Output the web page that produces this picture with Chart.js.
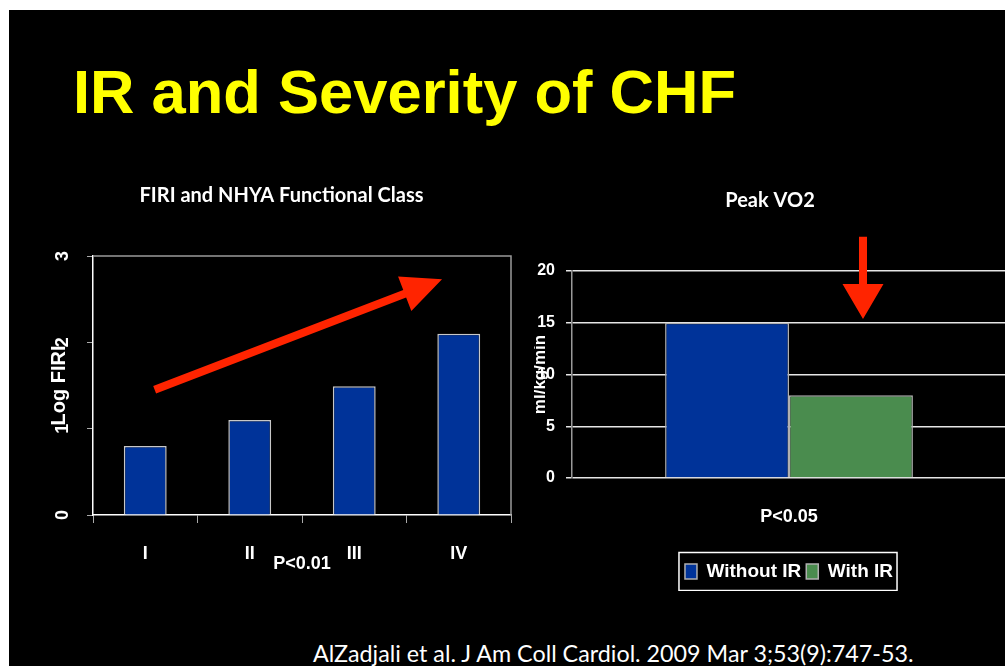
<!DOCTYPE html>
<html>
<head>
<meta charset="utf-8">
<title>IR and Severity of CHF</title>
<script src="https://cdn.jsdelivr.net/npm/chart.js@4.4.1/dist/chart.umd.min.js"></script>
<style>
  html, body { margin: 0; padding: 0; width: 1005px; height: 666px; overflow: hidden; background: #fff; }
  #slide { position: absolute; left: 9px; top: 10px; width: 1000px; height: 660px; background: #000; }
  #heading { position: absolute; left: 73px; top: 61px; margin: 0; font: bold 61.5px 'Liberation Sans', Arial, sans-serif;
             line-height: 61.5px; color: #ffff00; white-space: nowrap; }
  #cite { position: absolute; left: 313px; top: 639px; font: 23.3px Lato, 'Open Sans', sans-serif; line-height: 28px;
          color: #fff; white-space: nowrap; }
  canvas { position: absolute; }
  #firiChart { left: 9px; top: 170px; }
  #vo2Chart { left: 534px; top: 170px; }
</style>
</head>
<body>
<div id="slide"></div>
<h1 id="heading">IR and Severity of CHF</h1>
<canvas id="firiChart" width="506" height="405"></canvas>
<canvas id="vo2Chart" width="472" height="421"></canvas>
<div id="cite">AlZadjali et al. J Am Coll Cardiol. 2009 Mar 3;53(9):747-53.</div>

<script>
// FIRI by NYHA class (log FIRI)
const firiClasses = ['I', 'II', 'III', 'IV'];
const firiValues = [0.80, 1.10, 1.49, 2.10];
const firiTicks = [0, 1, 2, 3];
// trend arrow, [class index, log FIRI] for tail and tip
const firiArrow = [[0.09, 1.45], [2.84, 2.73]];

// Peak VO2 (ml/kg/min)
const vo2Groups = ['Without IR', 'With IR'];
const vo2Values = [15, 8];
const vo2Ticks = [0, 5, 10, 15, 20];
// down arrow, [fraction of x axis, ml/kg/min] for tail and tip
const vo2Arrow = [[0.6705, 23.3], [0.6705, 15.36]];

const BLUE = 'rgb(0, 51, 153)';
const GREEN = 'rgb(74, 140, 78)';
const RED = 'rgb(255, 36, 0)';
const ARIAL = "'Liberation Sans', Arial, sans-serif";
const CALIBRI = "Lato, 'Open Sans', sans-serif";

function drawArrow(ctx, x0, y0, x1, y1, shaft, headLen, headW) {
    const len = Math.hypot(x1 - x0, y1 - y0);
    ctx.save();
    ctx.translate(x0, y0);
    ctx.rotate(Math.atan2(y1 - y0, x1 - x0));
    ctx.fillStyle = RED;
    ctx.beginPath();
    ctx.moveTo(0, -shaft / 2);
    ctx.lineTo(len - headLen, -shaft / 2);
    ctx.lineTo(len - headLen, -headW / 2);
    ctx.lineTo(len, 0);
    ctx.lineTo(len - headLen, headW / 2);
    ctx.lineTo(len - headLen, shaft / 2);
    ctx.lineTo(0, shaft / 2);
    ctx.closePath();
    ctx.fill();
    ctx.restore();
}

// top and right edges of the plot frame
const framePlugin = {
    id: 'frame',
    beforeDatasetsDraw(chart) {
        const {ctx, chartArea: a} = chart;
        ctx.save();
        ctx.strokeStyle = '#9a9a9a';
        ctx.lineWidth = 1.5;
        ctx.beginPath();
        ctx.moveTo(a.left, a.top);
        ctx.lineTo(a.right, a.top);
        ctx.lineTo(a.right, a.bottom);
        ctx.stroke();
        ctx.restore();
    }
};

// y tick labels turned on their side
const sideTicksPlugin = {
    id: 'sideTicks',
    afterDraw(chart) {
        const {ctx} = chart;
        const y = chart.scales.y;
        const cx = y.right - 30;
        ctx.save();
        ctx.fillStyle = '#fff';
        ctx.font = 'bold 18px ' + ARIAL;
        ctx.textAlign = 'center';
        ctx.textBaseline = 'middle';
        y.ticks.forEach(t => {
            ctx.save();
            ctx.translate(cx, y.getPixelForValue(t.value));
            ctx.rotate(-Math.PI / 2);
            ctx.fillText(String(t.value), 0, 0);
            ctx.restore();
        });
        ctx.restore();
    }
};

const firiArrowPlugin = {
    id: 'firiArrow',
    afterDraw(chart) {
        const {x, y} = chart.scales;
        const [tail, tip] = firiArrow;
        drawArrow(chart.ctx, x.getPixelForValue(tail[0]), y.getPixelForValue(tail[1]),
            x.getPixelForValue(tip[0]), y.getPixelForValue(tip[1]), 8, 40, 37);
    }
};

const vo2ArrowPlugin = {
    id: 'vo2Arrow',
    afterDraw(chart) {
        const {x, y} = chart.scales;
        const [tail, tip] = vo2Arrow;
        drawArrow(chart.ctx, x.getPixelForDecimal(tail[0]), y.getPixelForValue(tail[1]),
            x.getPixelForDecimal(tip[0]), y.getPixelForValue(tip[1]), 8, 35, 41);
    }
};

// white outline round the legend
const legendBoxPlugin = {
    id: 'legendBox',
    afterDraw(chart) {
        const boxes = chart.legend.legendHitBoxes;
        if (!boxes.length) return;
        const left = Math.min(...boxes.map(b => b.left));
        const right = Math.max(...boxes.map(b => b.left + b.width));
        const top = Math.min(...boxes.map(b => b.top));
        const bottom = Math.max(...boxes.map(b => b.top + b.height));
        const ctx = chart.ctx;
        ctx.save();
        ctx.strokeStyle = '#fff';
        ctx.lineWidth = 1.5;
        ctx.strokeRect(left - 6, top - 9.5, right - left + 10, bottom - top + 19);
        ctx.restore();
    }
};

new Chart(document.getElementById('firiChart'), {
    type: 'bar',
    data: {
        labels: firiClasses,
        datasets: [{
            data: firiValues,
            backgroundColor: BLUE,
            borderColor: '#c8c8c8',
            borderWidth: 1.5,
            categoryPercentage: 1,
            barPercentage: 0.41
        }]
    },
    options: {
        responsive: false,
        animation: false,
        layout: { padding: { left: 43, right: 4, top: 0, bottom: 0 } },
        plugins: {
            legend: { display: false },
            tooltip: { enabled: false },
            title: {
                display: true,
                text: 'FIRI and NHYA Functional Class',
                color: '#fff',
                font: { family: CALIBRI, weight: 'bold', size: 20 },
                padding: { top: 14, bottom: 48 }
            }
        },
        scales: {
            x: {
                grid: { drawOnChartArea: false, tickLength: 8, color: '#aaa', offset: true },
                border: { color: '#fff', width: 1.5 },
                ticks: { color: '#fff', font: { family: ARIAL, weight: 'bold', size: 18 }, padding: 20 },
                title: {
                    display: true, text: 'P<0.01', color: '#fff',
                    font: { family: ARIAL, weight: 'bold', size: 18 },
                    padding: { top: 0, bottom: 0 }
                },
                afterFit: s => { s.height = 60; }
            },
            y: {
                min: 0,
                max: 3,
                afterBuildTicks: s => { s.ticks = firiTicks.map(v => ({ value: v })); },
                grid: { drawOnChartArea: false, tickLength: 6, color: '#aaa' },
                border: { color: '#fff', width: 1.5 },
                ticks: { display: false },
                title: {
                    display: true, text: 'Log FIRI', color: '#fff',
                    font: { family: ARIAL, weight: 'bold', size: 20 },
                    padding: { top: -5, bottom: 0 }
                },
                afterFit: s => { s.width = 41; }
            }
        }
    },
    plugins: [framePlugin, sideTicksPlugin, firiArrowPlugin]
});

new Chart(document.getElementById('vo2Chart'), {
    type: 'bar',
    data: {
        labels: [''],
        datasets: vo2Groups.map((g, i) => ({
            label: g,
            data: [vo2Values[i]],
            backgroundColor: [BLUE, GREEN][i],
            borderColor: '#b0b0b0',
            borderWidth: 1.5,
            categoryPercentage: 0.571,
            barPercentage: 1
        }))
    },
    options: {
        responsive: false,
        animation: false,
        layout: { padding: 0 },
        plugins: {
            tooltip: { enabled: false },
            legend: {
                position: 'bottom',
                fullSize: false,
                labels: {
                    color: '#fff',
                    font: { family: ARIAL, weight: 'bold', size: 19 },
                    boxWidth: 12,
                    boxHeight: 15,
                    padding: 5
                }
            },
            title: {
                display: true,
                text: 'Peak VO2',
                color: '#fff',
                font: { family: CALIBRI, weight: 'bold', size: 20 },
                padding: { top: 19, bottom: 58 }
            }
        },
        scales: {
            x: {
                grid: { display: false },
                border: { display: false },
                ticks: { display: false },
                title: {
                    display: true, text: 'P<0.05', color: '#fff',
                    font: { family: ARIAL, weight: 'bold', size: 18 },
                    padding: { top: 0, bottom: 29 }
                },
                afterFit: s => { s.height = 79; }
            },
            y: {
                min: 0,
                max: 20,
                afterBuildTicks: s => { s.ticks = vo2Ticks.map(v => ({ value: v })); },
                grid: { color: '#e6e6e6', lineWidth: 1.5, tickLength: 6 },
                border: { color: '#999', width: 1.5 },
                ticks: { color: '#fff', font: { family: ARIAL, weight: 'bold', size: 16 }, padding: 11 },
                title: {
                    display: true, text: 'ml/kg/min', color: '#fff',
                    font: { family: ARIAL, weight: 'bold', size: 17 },
                    padding: { top: -4, bottom: 0 }
                },
                afterFit: s => { s.width = 38; }
            }
        }
    },
    plugins: [vo2ArrowPlugin, legendBoxPlugin]
});
</script>
</body>
</html>
